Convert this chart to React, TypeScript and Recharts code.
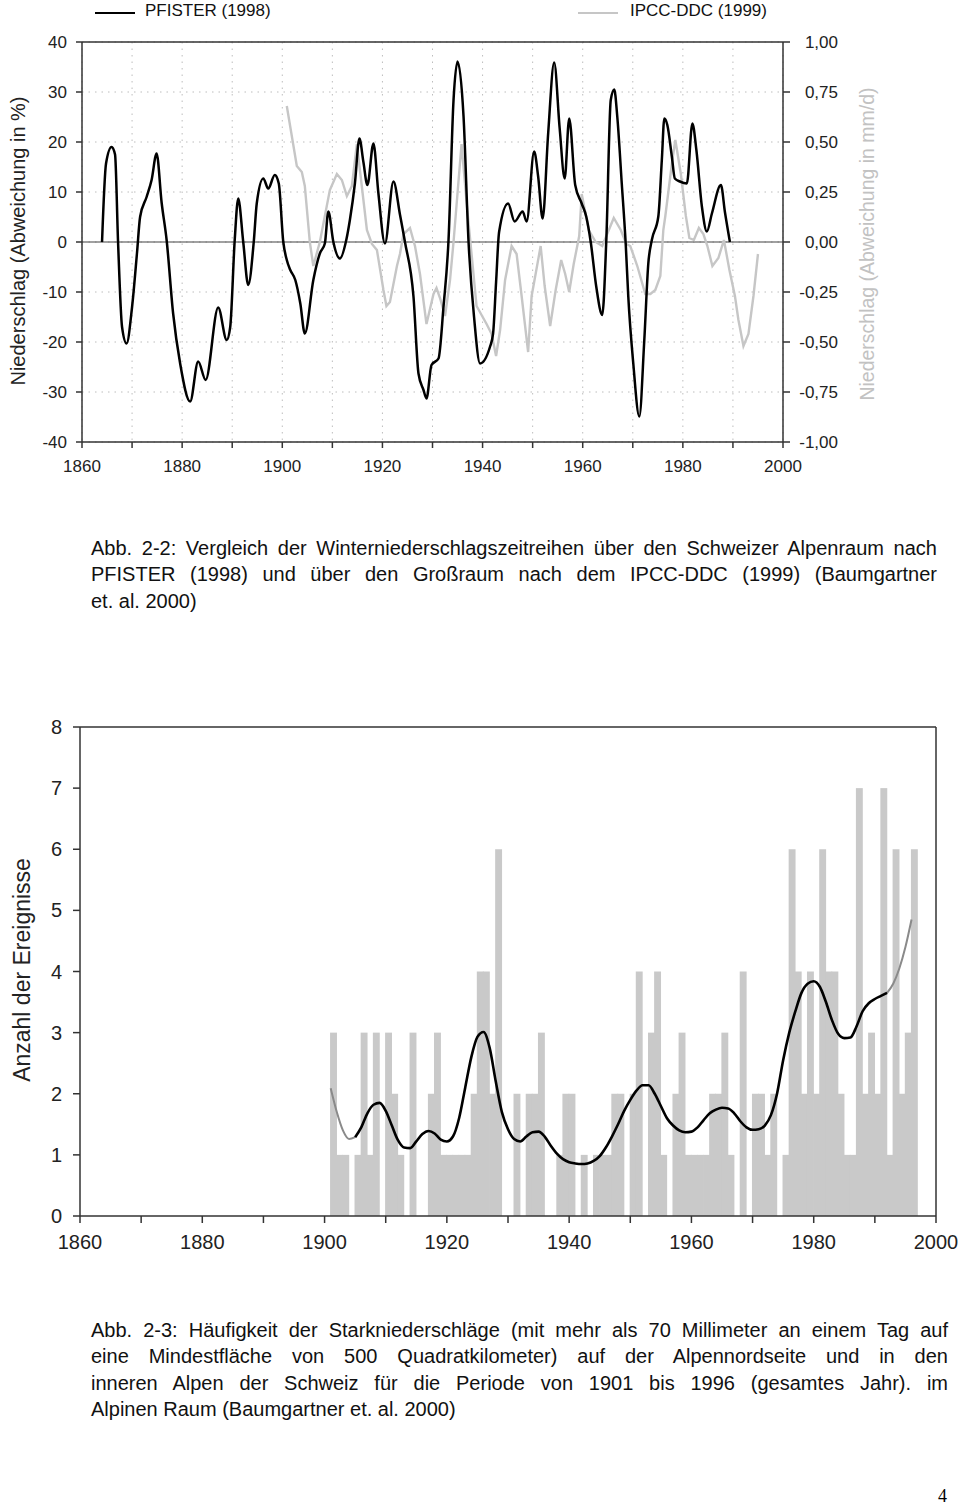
import React from 'react';
import {
  LineChart,
  ComposedChart,
  Line,
  Bar,
  XAxis,
  YAxis,
  CartesianGrid,
  ReferenceLine,
  Label,
} from 'recharts';

const FONT = '"Liberation Sans", Arial, Helvetica, sans-serif';
const AXIS = '#333';

// Abb. 2-2: PFISTER (1998), winter precipitation anomaly in % (smoothed)
const pfister: [number, number][] = [
  [1864.0, 0], [1864.8, 15.7], [1865.9, 19], [1866.6, 17.5], [1867.2, 0], [1868.0, -17],
  [1868.9, -20.3], [1870.0, -13], [1871.0, -2], [1871.6, 5], [1872.9, 9], [1873.9, 12.4],
  [1874.9, 17.7], [1875.9, 7.9], [1876.9, 0.4], [1878.2, -14.3], [1879.6, -24.3], [1881.6, -31.9],
  [1883.2, -23.9], [1884.7, -27.6], [1887.2, -13.1], [1888.9, -19.6], [1889.6, -17], [1890.5, 0.4],
  [1891.2, 8.7], [1892.2, 0], [1893.2, -8.6], [1894.3, 0], [1894.9, 7.7], [1896.2, 12.7],
  [1897.2, 10.7], [1898.5, 13.4], [1899.3, 11.7], [1900.2, 0], [1900.9, -3.6], [1901.6, -5.6],
  [1902.6, -7.6], [1903.6, -12.3], [1904.5, -18.3], [1906.2, -7.6], [1907.5, -2.3], [1908.5, -0.3],
  [1909.2, 6.1], [1910.2, 0], [1911.5, -3.3], [1912.8, 0.5], [1913.5, 4.4], [1914.5, 11.7],
  [1915.4, 20.7], [1916.2, 16], [1917.0, 11.4], [1918.2, 19.7], [1919.2, 9.7], [1920.5, -0.3],
  [1922.2, 12.1], [1923.5, 5.5], [1924.5, 0], [1926.2, -10.9], [1927.2, -26.3], [1928.2, -29.6],
  [1928.8, -31.3], [1929.8, -24.6], [1931.2, -23.3], [1932.2, -12.9], [1933.2, 0.4], [1934.2, 28.4],
  [1935.0, 36.1], [1936.2, 25.1], [1937.2, 0], [1938.3, -15], [1939.5, -24.3], [1941.5, -20.9],
  [1942.1, -18.3], [1942.7, -8], [1943.3, 2], [1945.1, 7.7], [1946.4, 4.1], [1948.0, 6.1],
  [1948.8, 4.1], [1950.3, 18.1], [1951.1, 13.1], [1952.0, 4.7], [1953.1, 21.7], [1954.3, 35.9],
  [1955.4, 22.7], [1956.4, 12.7], [1957.3, 24.7], [1958.5, 11.4], [1959.8, 7.7], [1960.7, 5.1],
  [1961.6, 0], [1962.7, -8.9], [1963.9, -14.6], [1964.7, 0], [1965.6, 28.4], [1966.3, 30.5],
  [1966.9, 25.1], [1967.8, 11.7], [1968.6, -0.6], [1969.1, -10.9], [1970.1, -24.3], [1971.3, -34.9],
  [1972.3, -19.6], [1973.1, -4.3], [1973.8, 0.4], [1975.1, 5.1], [1975.8, 16.4], [1976.3, 24.7],
  [1976.9, 23.4], [1977.8, 17.1], [1978.4, 12.7], [1979.4, 12.1], [1980.8, 11.7], [1981.9, 23.7],
  [1982.7, 18.4], [1983.8, 7.1], [1984.8, 2.1], [1985.8, 5.7], [1987.6, 11.4], [1988.4, 6],
  [1989.4, 0],
];

// Abb. 2-2: IPCC-DDC (1999), anomaly in mm/d
const ipcc: [number, number][] = [
  [1900.9, 0.68], [1902.9, 0.38], [1903.9, 0.35], [1904.5, 0.28], [1905.5, 0.0], [1906.2, -0.12],
  [1907.5, 0.0], [1909.5, 0.26], [1910.9, 0.34], [1911.9, 0.31], [1912.9, 0.23], [1913.9, 0.28],
  [1914.9, 0.49], [1916.9, 0.06], [1917.9, -0.01], [1918.9, -0.04], [1920.2, -0.24], [1920.8, -0.32],
  [1921.5, -0.3], [1922.9, -0.12], [1923.5, -0.06], [1924.2, 0.04], [1925.5, 0.07], [1926.5, -0.02],
  [1927.5, -0.16], [1928.8, -0.41], [1930.2, -0.26], [1930.8, -0.23], [1931.5, -0.28], [1932.5, -0.37],
  [1933.5, -0.19], [1934.2, 0.0], [1935.8, 0.49], [1936.8, 0.2], [1938.8, -0.32], [1940.8, -0.41],
  [1941.8, -0.46], [1942.7, -0.57], [1943.5, -0.44], [1944.5, -0.19], [1945.8, -0.02], [1946.8, -0.06],
  [1947.8, -0.27], [1949.1, -0.55], [1949.8, -0.27], [1951.6, -0.02], [1952.4, -0.22], [1953.5, -0.42],
  [1954.6, -0.24], [1955.7, -0.09], [1956.5, -0.16], [1957.3, -0.25], [1958.2, -0.11], [1959.3, 0.03],
  [1959.8, 0.24], [1961.2, 0.06], [1962.6, 0.0], [1963.9, -0.02], [1966.2, 0.12], [1967.6, 0.06],
  [1968.7, -0.01], [1969.5, -0.02], [1970.9, -0.12], [1972.5, -0.26], [1973.5, -0.26], [1974.5, -0.24],
  [1975.5, -0.17], [1976.1, 0.06], [1976.5, 0.13], [1977.9, 0.41], [1978.5, 0.51], [1979.6, 0.34],
  [1980.6, 0.13], [1981.3, 0.02], [1982.2, 0.01], [1983.2, 0.07], [1984.1, 0.04], [1984.9, -0.02],
  [1985.9, -0.12], [1987.1, -0.08], [1988.2, 0.01], [1989.3, -0.14], [1990.4, -0.27], [1991.1, -0.39],
  [1992.1, -0.52], [1993.1, -0.46], [1994.1, -0.27], [1995.0, -0.06],
];

const decadeTicks = [1860, 1870, 1880, 1890, 1900, 1910, 1920, 1930, 1940, 1950, 1960, 1970, 1980, 1990, 2000];
const pctTicks = [-40, -30, -20, -10, 0, 10, 20, 30, 40];
const mmdTicks = [-1, -0.75, -0.5, -0.25, 0, 0.25, 0.5, 0.75, 1];

// Abb. 2-3: number of heavy precipitation events per year
const eventYears = [
  1901, 1902, 1903, 1904, 1905, 1906, 1907, 1908, 1909, 1910,
  1911, 1912, 1913, 1914, 1915, 1916, 1917, 1918, 1919, 1920,
  1921, 1922, 1923, 1924, 1925, 1926, 1927, 1928, 1929, 1930,
  1931, 1932, 1933, 1934, 1935, 1936, 1937, 1938, 1939, 1940,
  1941, 1942, 1943, 1944, 1945, 1946, 1947, 1948, 1949, 1950,
  1951, 1952, 1953, 1954, 1955, 1956, 1957, 1958, 1959, 1960,
  1961, 1962, 1963, 1964, 1965, 1966, 1967, 1968, 1969, 1970,
  1971, 1972, 1973, 1974, 1975, 1976, 1977, 1978, 1979, 1980,
  1981, 1982, 1983, 1984, 1985, 1986, 1987, 1988, 1989, 1990,
  1991, 1992, 1993, 1994, 1995, 1996,
];
const eventCounts = [
  3, 1, 1, 0, 1, 3, 1, 3, 0, 3,
  2, 1, 0, 3, 0, 0, 2, 3, 1, 1,
  1, 1, 1, 2, 4, 4, 2, 6, 0, 0,
  2, 0, 2, 2, 3, 0, 0, 1, 2, 2,
  0, 1, 0, 1, 1, 1, 2, 2, 0, 2,
  4, 0, 3, 4, 1, 0, 2, 3, 1, 1,
  1, 1, 2, 2, 3, 1, 0, 4, 0, 2,
  2, 1, 2, 0, 1, 6, 4, 2, 4, 2,
  6, 4, 4, 2, 1, 1, 7, 2, 3, 2,
  7, 1, 6, 2, 3, 6,
];

// Abb. 2-3: smoothed trend (grey at both filter ends)
const trend: [number, number][] = [
  [1901, 2.09], [1902, 1.7], [1903, 1.4], [1904, 1.26], [1905, 1.29], [1906, 1.45], [1907, 1.68],
  [1908, 1.82], [1909, 1.85], [1910, 1.72], [1911, 1.48], [1912, 1.24], [1913, 1.12], [1914, 1.11],
  [1915, 1.22], [1916, 1.34], [1917, 1.39], [1918, 1.35], [1919, 1.25], [1920, 1.22], [1921, 1.3],
  [1922, 1.6], [1923, 2.1], [1924, 2.6], [1925, 2.93], [1926, 3.01], [1927, 2.75], [1928, 2.2],
  [1929, 1.7], [1930, 1.42], [1931, 1.26], [1932, 1.22], [1933, 1.3], [1934, 1.37], [1935, 1.38],
  [1936, 1.3], [1937, 1.15], [1938, 1.02], [1939, 0.93], [1940, 0.88], [1941, 0.86], [1942, 0.85],
  [1943, 0.86], [1944, 0.9], [1945, 0.98], [1946, 1.12], [1947, 1.3], [1948, 1.5], [1949, 1.72],
  [1950, 1.9], [1951, 2.05], [1952, 2.14], [1953, 2.14], [1954, 2.0], [1955, 1.8], [1956, 1.6],
  [1957, 1.48], [1958, 1.4], [1959, 1.37], [1960, 1.38], [1961, 1.45], [1962, 1.57], [1963, 1.68],
  [1964, 1.74], [1965, 1.77], [1966, 1.76], [1967, 1.68], [1968, 1.55], [1969, 1.45], [1970, 1.41],
  [1971, 1.42], [1972, 1.48], [1973, 1.65], [1974, 2.0], [1975, 2.55], [1976, 3.0], [1977, 3.35],
  [1978, 3.65], [1979, 3.8], [1980, 3.84], [1981, 3.75], [1982, 3.5], [1983, 3.2], [1984, 2.98],
  [1985, 2.91], [1986, 2.92], [1987, 3.1], [1988, 3.35], [1989, 3.48], [1990, 3.55], [1991, 3.6],
  [1992, 3.65], [1993, 3.8], [1994, 4.05], [1995, 4.4], [1996, 4.85],
];
const countTicks = [0, 1, 2, 3, 4, 5, 6, 7, 8];

const caption1 = [
  'Abb. 2-2: Vergleich der Winterniederschlagszeitreihen über den Schweizer Alpenraum nach',
  'PFISTER (1998) und über den Großraum nach dem IPCC-DDC (1999) (Baumgartner',
  'et. al. 2000)',
];
const caption2 = [
  'Abb. 2-3: Häufigkeit der Starkniederschläge (mit mehr als 70 Millimeter an einem Tag auf',
  'eine Mindestfläche von 500 Quadratkilometer) auf der Alpennordseite und in den',
  'inneren Alpen der Schweiz für die Periode von 1901 bis 1996 (gesamtes Jahr).  im',
  'Alpinen Raum (Baumgartner et. al. 2000)',
];

const pfisterData = pfister.map(([year, pct]) => ({ year, pct }));
const ipccData = ipcc.map(([year, mmd]) => ({ year, mmd }));
// each bar covers its whole year, so it sits on the middle of the year
const eventData = eventYears.map((year, i) => ({ year: year + 0.5, count: eventCounts[i] }));
const trendData = trend.map(([year, value]) => ({ year, value }));
const trendStart = trendData.filter((d) => d.year <= 1905);
const trendMain = trendData.filter((d) => d.year >= 1905 && d.year <= 1992);
const trendEnd = trendData.filter((d) => d.year >= 1992);

const yearLabel = (v: number) => (v % 20 === 0 ? String(v) : '');
const mmdLabel = (v: number) => v.toFixed(2).replace('.', ',');

const RotatedTitle = ({ x, y, text, size, color }: { x: number; y: number; text: string; size: number; color: string }) => (
  <text
    x={x}
    y={y}
    transform={`rotate(-90 ${x} ${y})`}
    textAnchor="middle"
    dominantBaseline="central"
    fontSize={size}
    fontFamily={FONT}
    fill={color}
  >
    {text}
  </text>
);

const RightTick = (props: any) => {
  const { x, y, payload } = props;
  return (
    <text x={x + 46} y={y} dy="0.355em" textAnchor="end" fontSize={17} fontFamily={FONT} fill="#222">
      {mmdLabel(payload.value)}
    </text>
  );
};

// full-year bars, neighbouring years touch without a seam
const YearBar = (props: any) => {
  const { x, y, width, height, fill } = props;
  if (!height || height <= 0) return null;
  const w = 6.9;
  return <rect x={x + width / 2 - w / 2} y={y} width={w} height={height} fill={fill} />;
};

const Caption = ({ lines, top, left, width }: { lines: string[]; top: number; left: number; width: number }) => (
  <div style={{ position: 'absolute', top, left, width, fontFamily: FONT, fontSize: 20, lineHeight: '26.3px', color: '#111' }}>
    {lines.map((line, i) => (
      <div key={i} style={{ textAlign: 'justify', textAlignLast: i < lines.length - 1 ? 'justify' : 'left' }}>
        {line}
      </div>
    ))}
  </div>
);

const tickStyle = { fontSize: 17, fontFamily: FONT, fill: '#222' };
const tickStyle2 = { fontSize: 20, fontFamily: FONT, fill: '#222' };

export default function App() {
  return (
    <div style={{ position: 'absolute', left: 0, top: 0, width: 960, height: 1508, background: '#fff', fontFamily: FONT }}>
      {/* legend of Abb. 2-2 */}
      <div style={{ position: 'absolute', left: 95, top: 12, width: 40, borderTop: '2.5px solid #000' }} />
      <div style={{ position: 'absolute', left: 145, top: 1, fontSize: 17, color: '#111' }}>PFISTER (1998)</div>
      <div style={{ position: 'absolute', left: 578, top: 12, width: 40, borderTop: '2.5px solid #c6c6c6' }} />
      <div style={{ position: 'absolute', left: 630, top: 1, fontSize: 17, color: '#111' }}>IPCC-DDC (1999)</div>

      <div style={{ position: 'absolute', left: 0, top: 0 }}>
        <LineChart width={960} height={500} margin={{ top: 42, right: 0, bottom: 18, left: 0 }}>
          <CartesianGrid yAxisId="left" stroke="#bdbdbd" strokeDasharray="1.5 5" />
          <XAxis
            dataKey="year"
            type="number"
            domain={[1860, 2000]}
            allowDataOverflow
            ticks={decadeTicks}
            interval={0}
            tickFormatter={yearLabel}
            tick={tickStyle}
            tickSize={6}
            tickMargin={12}
            height={40}
            stroke={AXIS}
            strokeWidth={1.5}
          />
          <YAxis
            yAxisId="left"
            type="number"
            domain={[-40, 40]}
            ticks={pctTicks}
            interval={0}
            tick={tickStyle}
            tickSize={6}
            tickMargin={9}
            width={82}
            stroke={AXIS}
            strokeWidth={1.5}
          >
            <Label content={() => <RotatedTitle x={18} y={241} text="Niederschlag (Abweichung in %)" size={20} color="#222" />} />
          </YAxis>
          <YAxis
            yAxisId="right"
            orientation="right"
            type="number"
            domain={[-1, 1]}
            ticks={mmdTicks}
            interval={0}
            tick={<RightTick />}
            tickSize={7}
            tickMargin={2}
            width={177}
            stroke={AXIS}
            strokeWidth={1.5}
          >
            <Label content={() => <RotatedTitle x={867} y={244} text="Niederschlag (Abweichung in mm/d)" size={19.5} color="#c2c2c2" />} />
          </YAxis>
          <ReferenceLine yAxisId="left" y={0} stroke="#444" strokeWidth={1.2} />
          <ReferenceLine yAxisId="left" y={40} stroke={AXIS} strokeWidth={1.5} />
          <Line
            yAxisId="right"
            data={ipccData}
            dataKey="mmd"
            type="linear"
            stroke="#c6c6c6"
            strokeWidth={2.4}
            dot={false}
            isAnimationActive={false}
          />
          <Line
            yAxisId="left"
            data={pfisterData}
            dataKey="pct"
            type="monotone"
            stroke="#000"
            strokeWidth={2.5}
            dot={false}
            isAnimationActive={false}
          />
        </LineChart>
      </div>

      <Caption lines={caption1} top={535} left={91} width={846} />

      <div style={{ position: 'absolute', left: 0, top: 700 }}>
        <ComposedChart width={960} height={560} data={eventData} margin={{ top: 27, right: 24, bottom: 0, left: 0 }}>
          <XAxis
            dataKey="year"
            type="number"
            domain={[1860, 2000]}
            allowDataOverflow
            ticks={decadeTicks}
            interval={0}
            tickFormatter={yearLabel}
            tick={tickStyle2}
            tickSize={7}
            tickMargin={12}
            height={44}
            stroke={AXIS}
            strokeWidth={1.5}
          />
          <YAxis
            type="number"
            domain={[0, 8]}
            ticks={countTicks}
            interval={0}
            tick={tickStyle2}
            tickSize={7}
            tickMargin={11}
            width={80}
            stroke={AXIS}
            strokeWidth={1.5}
          >
            <Label content={() => <RotatedTitle x={22} y={270} text="Anzahl der Ereignisse" size={23} color="#222" />} />
          </YAxis>
          <ReferenceLine y={8} stroke={AXIS} strokeWidth={1.5} />
          <ReferenceLine x={2000} stroke={AXIS} strokeWidth={1.5} />
          <Bar dataKey="count" fill="#c9c9c9" shape={<YearBar />} isAnimationActive={false} />
          <Line data={trendStart} dataKey="value" type="monotone" stroke="#8a8a8a" strokeWidth={2} dot={false} isAnimationActive={false} />
          <Line data={trendEnd} dataKey="value" type="monotone" stroke="#8a8a8a" strokeWidth={2} dot={false} isAnimationActive={false} />
          <Line data={trendMain} dataKey="value" type="monotone" stroke="#000" strokeWidth={2.6} dot={false} isAnimationActive={false} />
        </ComposedChart>
      </div>

      <Caption lines={caption2} top={1317} left={91} width={857} />

      <div style={{ position: 'absolute', left: 938, top: 1486, fontFamily: '"Liberation Serif", "DejaVu Serif", serif', fontSize: 18 }}>4</div>
    </div>
  );
}
